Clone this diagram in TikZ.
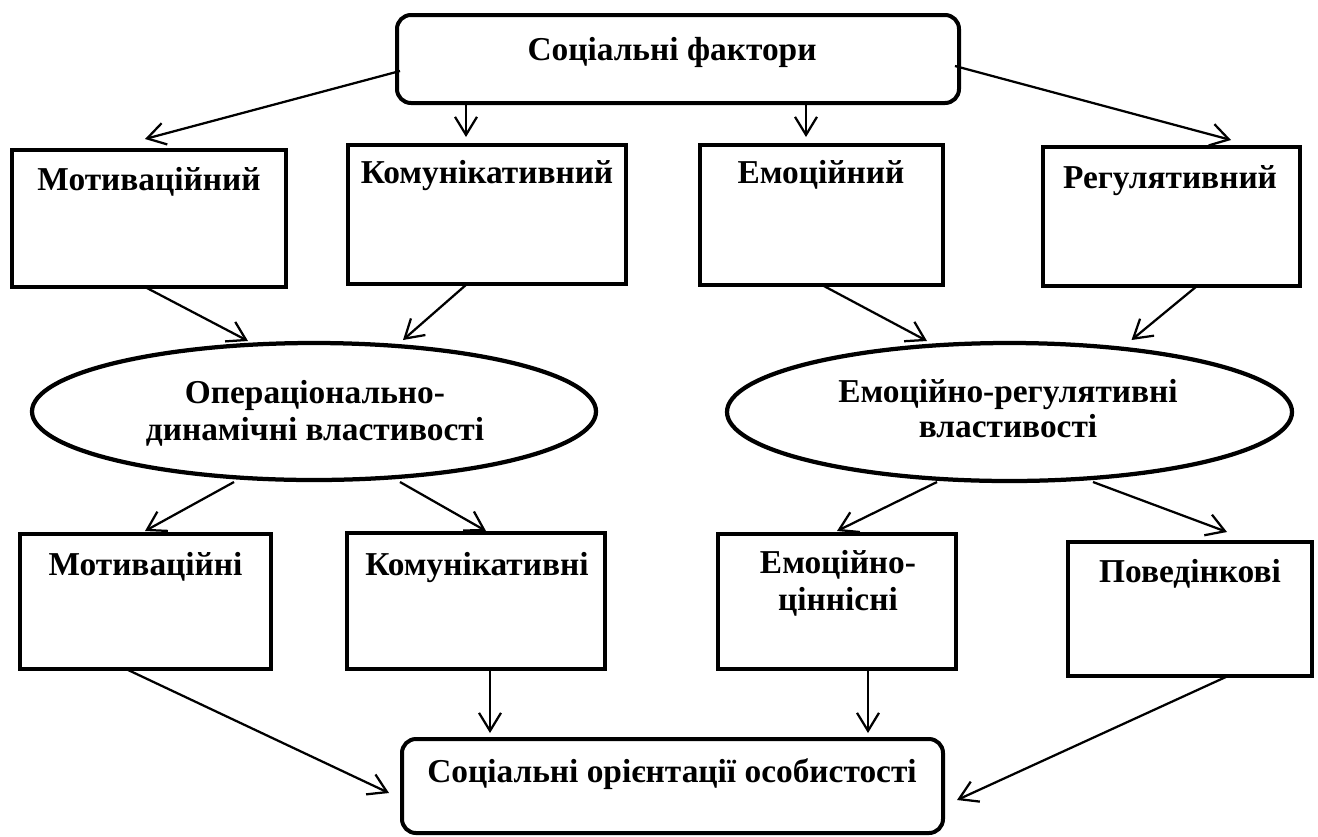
\documentclass[tikz,border=0pt]{standalone}
\usepackage{fontspec}
\setmainfont{Liberation Serif}
\usetikzlibrary{arrows.meta,shapes.geometric,calc}

\begin{document}
\begin{tikzpicture}[
    x=0.02cm, y=-0.02cm,
    sz/.style 2 args={minimum width=#1*0.02cm, minimum height=#2*0.02cm},
    boxnode/.style={draw, line width=0.08cm, inner sep=0pt, outer sep=0pt},
    roundbox/.style={boxnode, rounded corners=0.28cm},
    ovalnode/.style={draw, ellipse, line width=0.085cm, inner sep=0pt, outer sep=0pt},
    txt/.style={anchor=base, inner sep=0pt, font=\bfseries\fontsize{19}{22}\selectfont},
    arr/.style={-{Straight Barb[length=0.36cm, width=0.44cm, line width=0.045cm]}, line width=0.045cm}
]
\useasboundingbox (0,0) rectangle (1318,836);

% top level
\node[roundbox, sz={562}{88}] (top) at (678,59) {};
\node[txt] (topt) at (672,60) {Соціальні фактори};

% first row of components
\node[boxnode, sz={274}{137}] (m1) at (149,218.5) {};
\node[boxnode, sz={278}{139}] (k1) at (487,214.5) {};
\node[boxnode, sz={243}{140}] (e1) at (821.5,215) {};
\node[boxnode, sz={257}{139}] (r1) at (1171.5,216.5) {};
\node[txt] (m1t) at (149,190) {Мотиваційний};
\node[txt] (k1t) at (487,183) {Комунікативний};
\node[txt] (e1t) at (821,183) {Емоційний};
\node[txt] (r1t) at (1170,188) {Регулятивний};

% properties
\node[ovalnode, sz={564}{137}] (opd) at (314,411.5) {};
\node[ovalnode, sz={565}{138}] (erv) at (1009.5,412) {};
\node[txt] (opdt1) at (315,403) {Операціонально-};
\node[txt] (opdt2) at (315,440) {динамічні властивості};
\node[txt] (ervt1) at (1008,402) {Емоційно-регулятивні};
\node[txt] (ervt2) at (1008,437) {властивості};

% second row of components
\node[boxnode, sz={251}{135}] (m2) at (145.5,601.5) {};
\node[boxnode, sz={258}{136}] (k2) at (476,601) {};
\node[boxnode, sz={238}{135}] (e2) at (837,601.5) {};
\node[boxnode, sz={244}{134}] (p2) at (1190,609) {};
\node[txt] (m2t) at (145.5,575) {Мотиваційні};
\node[txt] (k2t) at (477,575) {Комунікативні};
\node[txt] (e2t1) at (838,573) {Емоційно-};
\node[txt] (e2t2) at (838,610) {ціннісні};
\node[txt] (p2t) at (1190,582) {Поведінкові};

% result
\node[roundbox, sz={541}{94}] (bot) at (672.5,786) {};
\node[txt] (bott) at (672,782) {Соціальні орієнтації особистості};

% connectors: factors -> first row
\draw[arr] ($(top.west)+(3,12)$) -- ($(m1.north)+(-4,-11)$);
\coordinate (k1in) at ($(k1.north)+(-21,-8)$);
\draw[arr] (top.south -| k1in) -- (k1in);
\coordinate (e1in) at ($(e1.north)+(-15.5,-8)$);
\draw[arr] (top.south -| e1in) -- (e1in);
\draw[arr] ($(top.east)+(-4,7)$) -- ($(r1.north)+(59.5,-7)$);

% first row -> properties
\draw[arr] ($(m1.south)+(-4,0)$) -- ($(opd.center)+(-66,-70.5)$);
\draw[arr] ($(k1.south)+(-20,0)$) -- ($(opd.center)+(89,-71.5)$);
\draw[arr] ($(e1.south)+(0.5,0)$) -- ($(erv.center)+(-82.5,-71)$);
\draw[arr] ($(r1.south)+(25.5,0)$) -- ($(erv.center)+(122,-72)$);

% properties -> second row
\draw[arr] ($(opd.center)+(-80,70.5)$) -- ($(m2.north)+(-0.5,-3)$);
\draw[arr] ($(opd.center)+(86,70.5)$) -- ($(k2.north)+(10,-2)$);
\draw[arr] ($(erv.center)+(-72.5,70)$) -- ($(e2.north)+(0,-3)$);
\draw[arr] ($(erv.center)+(83.5,70)$) -- ($(p2.north)+(37,-10)$);

% second row -> result
\draw[arr] ($(m2.south)+(-19.5,0)$) -- ($(bot.west)+(-13,7)$);
\coordinate (k2out) at ($(k2.south)+(14,0)$);
\draw[arr] (k2out) -- ($(k2out |- bot.north)+(0,-6)$);
\coordinate (e2out) at ($(e2.south)+(31,0)$);
\draw[arr] (e2out) -- ($(e2out |- bot.north)+(0,-6)$);
\draw[arr] ($(p2.south)+(38,0)$) -- ($(bot.east)+(14,14)$);
\end{tikzpicture}
\end{document}
